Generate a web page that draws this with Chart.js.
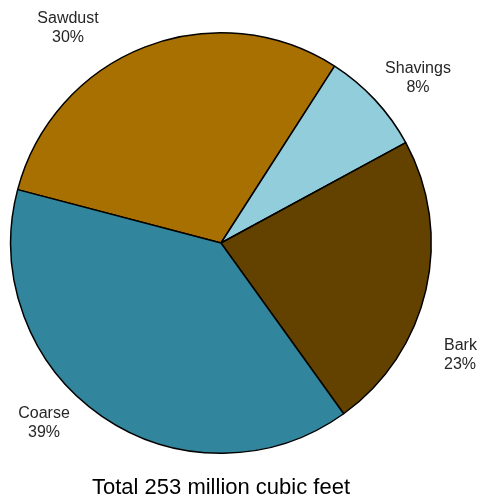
<!DOCTYPE html>
<html>
<head>
<meta charset="utf-8">
<script src="https://cdn.jsdelivr.net/npm/chart.js@4.4.0/dist/chart.umd.min.js"></script>
<style>
  html, body { margin: 0; padding: 0; background: #fff; }
  #wrap { width: 482px; height: 499px; }
</style>
</head>
<body>
<div id="wrap"><canvas id="residues"></canvas></div>
<script>
const categories = ["Sawdust", "Shavings", "Bark", "Coarse"];
const shares = [30, 8, 23, 39];
const sliceColors = ["#a87000", "#92cddc", "#634200", "#31859c"];
const totalLabel = "Total 253 million cubic feet";

// where each slice's label sits, relative to the pie centre
const labelSpots = {
  Sawdust: { dx: -153, dy: -215, align: "center" },
  Shavings: { dx: 197, dy: -165, align: "center" },
  Bark: { dx: 223, dy: 112, align: "left" },
  Coarse: { dx: -177, dy: 180, align: "center" },
};

const sliceLabels = {
  id: "sliceLabels",
  afterDatasetsDraw(chart) {
    const ctx = chart.ctx;
    const arcs = chart.getDatasetMeta(0).data;
    ctx.save();
    ctx.font = "16px 'Liberation Sans', Arial, sans-serif";
    ctx.fillStyle = "#262626";
    ctx.textBaseline = "middle";
    arcs.forEach((arc, i) => {
      const spot = labelSpots[categories[i]];
      const x = arc.x + spot.dx;
      const y = arc.y + spot.dy;
      ctx.textAlign = spot.align;
      ctx.fillText(categories[i], x, y - 9.5);
      ctx.fillText(shares[i] + "%", x, y + 9.5);
    });
    ctx.restore();
  },
};

new Chart(document.getElementById("residues"), {
  type: "pie",
  data: {
    labels: categories,
    datasets: [
      {
        data: shares,
        backgroundColor: sliceColors,
        borderColor: "#000",
        borderWidth: 1.5,
      },
    ],
  },
  options: {
    responsive: true,
    maintainAspectRatio: false,
    animation: false,
    rotation: -75.3,
    layout: { padding: { left: 10, right: 50, top: 32, bottom: 0 } },
    plugins: {
      legend: { display: false },
      tooltip: { enabled: false },
      title: {
        display: true,
        position: "bottom",
        text: totalLabel,
        color: "#000",
        font: { family: "'Liberation Sans', Arial, sans-serif", size: 22, weight: "normal", lineHeight: 1 },
        padding: { top: 23, bottom: 0 },
      },
    },
  },
  plugins: [sliceLabels],
});
</script>
</body>
</html>
